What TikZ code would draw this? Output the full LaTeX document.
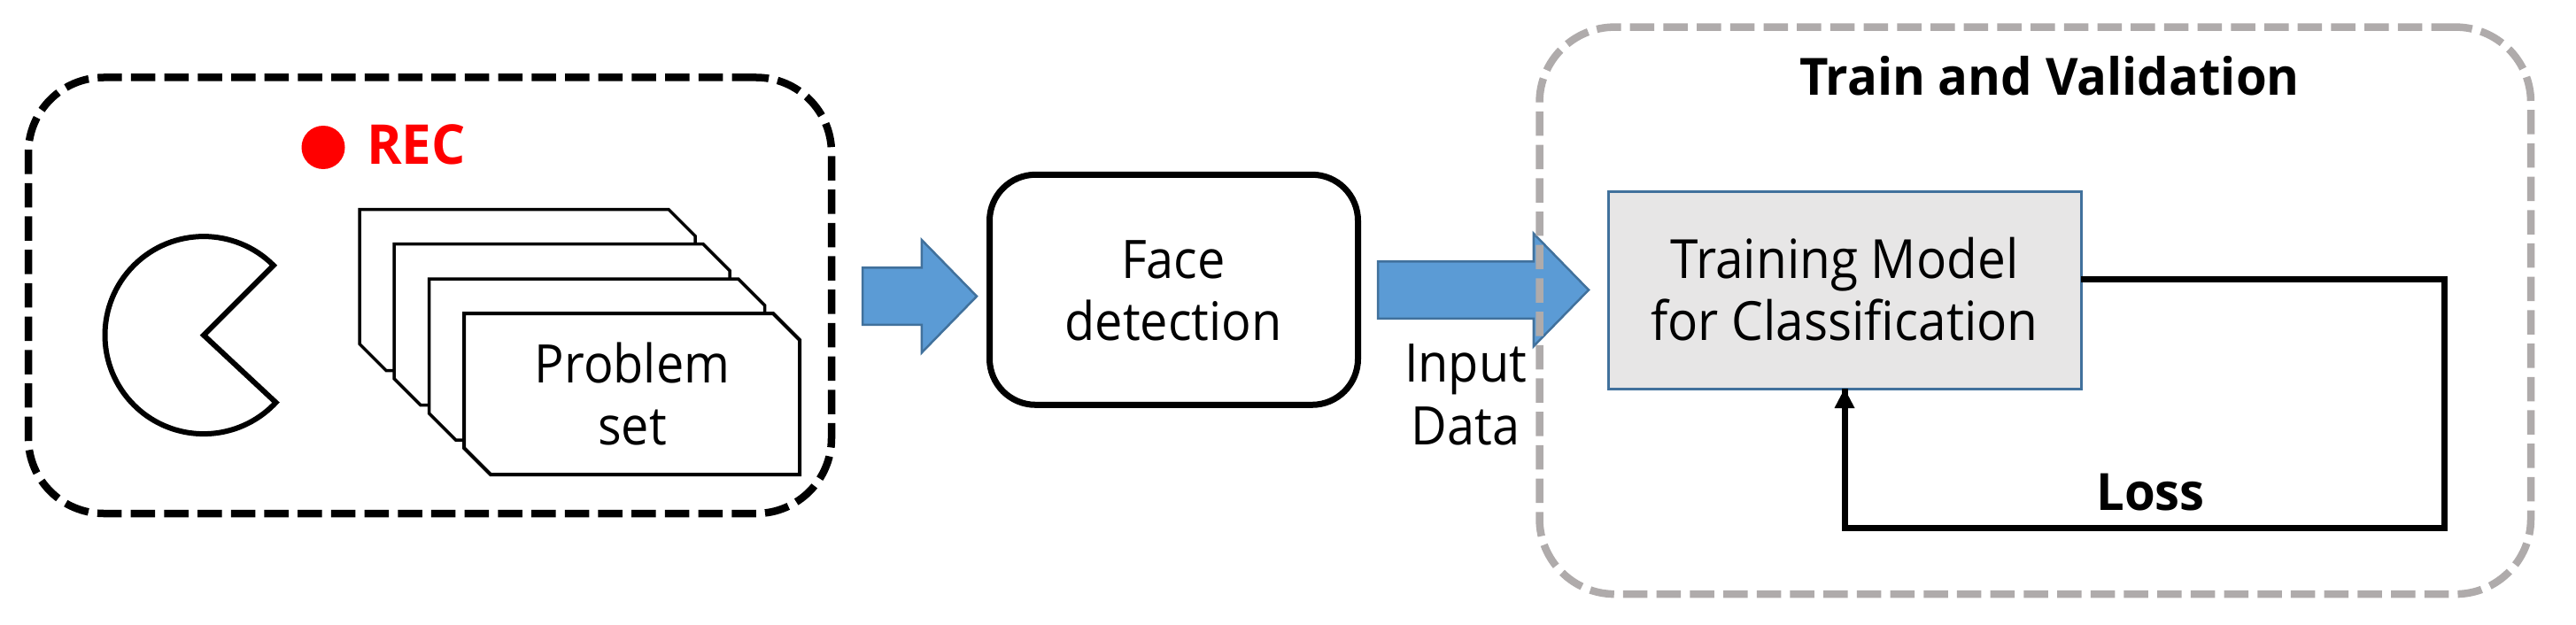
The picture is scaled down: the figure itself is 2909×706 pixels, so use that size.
\documentclass[tikz,border=0pt]{standalone}
\usepackage{fontspec}
\setmainfont[FakeStretch=0.93]{Open Sans}
\newfontfamily\headfam[FakeStretch=0.97]{Open Sans}[BoldFont={Open Sans Bold}]
\usetikzlibrary{shapes.arrows}
\definecolor{blockblue}{HTML}{5B9BD5}
\definecolor{blockedge}{HTML}{41719C}
\definecolor{framegray}{HTML}{AFABAB}
\definecolor{modelfill}{HTML}{E7E6E6}
\newcommand{\bodyfont}{\fontsize{60}{70.5}\selectfont}
\newcommand{\headfont}{\headfam\fontsize{58}{70}\selectfont\bfseries}
\newcommand{\recfont}{\headfam\fontsize{62}{70}\selectfont\bfseries}
\tikzset{
  x=1pt,y=-1pt,
  every node/.style={inner sep=0pt,outer sep=0pt},
  dashframe/.style={draw=#1,line width=8.5pt,rounded corners=85pt,dash pattern=on 27.5pt off 10.2pt,fill=none},
  cardline/.style={draw=black,fill=white,line width=3.5pt,line join=miter},
  blockarrow/.style={draw=blockedge,fill=blockblue,line width=2.5pt,single arrow,single arrow tip angle=91.4,
    single arrow head extend=31.5pt,text height=31pt,text depth=31pt,anchor=tip},
  txt/.style={font=\bodyfont,align=center},
  loopline/.style={draw=black,line width=7pt}
}
\begin{document}
\begin{tikzpicture}
\useasboundingbox (0,0) rectangle (2909,706);
% left frame
\node[dashframe=black,minimum width=907pt,minimum height=492.5pt] (capture) at (485.5,333.75) {};
\node[circle,fill=red,minimum size=49pt] (recdot) at (365,166.5) {};
\node[font=\recfont,text=red,anchor=base] (rec) at (470,185) {REC};
% pacman
\coordinate (pac) at (230,378.6);
\draw[line width=6pt,miter limit=10] (pac) -- ++(-45:111.5) arc[start angle=-45,end angle=-317,radius=111.5] -- cycle;
% cards
\foreach \cx/\cy/\lw in {406/236.5/3.5,445/275.7/3.5,484.7/315/3.5,524/354/4}{
  \draw[cardline,line width=\lw pt] (\cx,\cy) -- ++(349,0) -- ++(30,30) -- ++(0,152) -- ++(-349,0) -- ++(-30,-30) -- cycle;
}
\node[txt,anchor=base] (ptxt) at (714,432) {Problem};
\node[txt,anchor=base] (stxt) at (714,502) {set};
% arrows
\node[blockarrow,minimum height=129pt] (arrowa) at (1103,334.7) {};
\node[blockarrow,minimum height=238pt] (arrowb) at (1794,327.5) {};
% face
\node[draw=black,line width=7pt,rounded corners=52pt,minimum width=416pt,minimum height=260pt,fill=white] (face) at (1325.5,327.3) {};
\node[txt,anchor=base] (ftxta) at (1325,314) {Face};
\node[txt,anchor=base] (ftxtb) at (1325,384.3) {detection};
\node[txt,anchor=base] (itxta) at (1655,431.7) {Input};
\node[txt,anchor=base] (itxtb) at (1655,502.3) {Data};
% right frame
\node[dashframe=framegray,minimum width=1119.5pt,minimum height=640.5pt] (train) at (2298.25,350.85) {};
\node[font=\headfont,anchor=base] (ttl) at (2314.5,108) {Train and Validation};
% model
\node[draw=blockedge,line width=3pt,fill=modelfill,minimum width=534pt,minimum height=223pt] (model) at (2083,327.5) {};
\node[font=\fontsize{61}{70}\selectfont,anchor=base] (mtxta) at (2083,314) {Training Model};
\node[font=\fontsize{61}{70}\selectfont,anchor=base] (mtxtb) at (2083,384) {for Classification};
% loop
\coordinate (loopa) at (2760,315);
\coordinate (loopb) at (2760,596);
\draw[loopline,line join=miter] (model.east |- loopa) -- (loopa) -- (loopb) -- (model.south |- loopb)
  -- (model.south);
\fill (model.south) -- ++(-11.5,22) -- ++(23,0) -- cycle;
\node[font=\headfont,anchor=base] (loss) at (2428.5,576.5) {Loss};
\end{tikzpicture}
\end{document}
